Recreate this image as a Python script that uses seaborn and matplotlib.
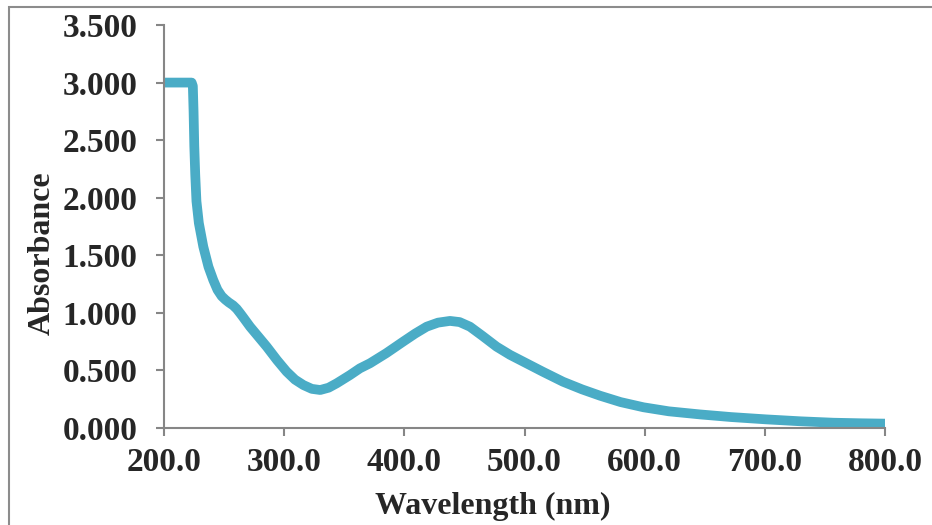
import matplotlib
matplotlib.use("Agg")
import matplotlib.pyplot as plt
import matplotlib.patches as mpatches
from matplotlib.ticker import FormatStrFormatter
import seaborn as sns
import pandas as pd

wavelength = [200, 212, 223.0, 224.0, 224.6, 225.2, 226, 227, 229, 232.7, 237, 241, 244.5,
              248, 251, 254, 257.5, 260.5, 263.5, 266, 271.6, 278, 285.5, 294, 302, 309,
              316, 323, 330, 337, 343.7, 354.8, 363, 371.4, 385, 399, 409, 418.6, 428,
              438, 446, 454.6, 465, 476.8, 488, 499, 515, 532, 548, 563, 580, 599, 620,
              646, 672, 701, 730, 757, 780, 800]
absorbance = [3.0, 3.0, 3.0, 2.97, 2.75, 2.45, 2.2, 1.97, 1.78, 1.575, 1.40, 1.285, 1.20,
              1.145, 1.115, 1.09, 1.065, 1.035, 0.995, 0.96, 0.88, 0.80, 0.706, 0.59, 0.49,
              0.42, 0.373, 0.34, 0.33, 0.35, 0.388, 0.46, 0.518, 0.562, 0.65, 0.75, 0.82,
              0.88, 0.915, 0.93, 0.92, 0.88, 0.80, 0.706, 0.635, 0.576, 0.49, 0.402, 0.335,
              0.28, 0.225, 0.18, 0.145, 0.118, 0.095, 0.075, 0.058, 0.046, 0.041, 0.038]

x_ticks = [200, 300, 400, 500, 600, 700, 800]
y_ticks = [0, 0.5, 1.0, 1.5, 2.0, 2.5, 3.0, 3.5]

df = pd.DataFrame({"wavelength": wavelength, "absorbance": absorbance})

sns.set_style("ticks")
plt.rcParams["font.family"] = ["Liberation Serif", "DejaVu Serif"]
plt.rcParams["font.weight"] = "bold"

fig = plt.figure(figsize=(9.32, 5.25), dpi=100)
ax = fig.add_axes([164 / 932, 97 / 525, 721 / 932, 403 / 525])

sns.lineplot(data=df, x="wavelength", y="absorbance", ax=ax, color="#4AACC6",
             linewidth=7, solid_capstyle="round", solid_joinstyle="round")

ax.set_xlim(200, 800)
ax.set_ylim(0, 3.5)
ax.set_xticks(x_ticks)
ax.set_yticks(y_ticks)
ax.xaxis.set_major_formatter(FormatStrFormatter("%.1f"))
ax.yaxis.set_major_formatter(FormatStrFormatter("%.3f"))

for side in ["top", "right"]:
    ax.spines[side].set_visible(False)
for side in ["left", "bottom"]:
    ax.spines[side].set_color("#868686")
    ax.spines[side].set_linewidth(1.5)
ax.tick_params(axis="both", direction="out", length=6, width=1.5, color="#868686",
               labelsize=24)
ax.tick_params(axis="y", pad=13)
ax.tick_params(axis="x", pad=8)
for lbl in ax.get_xticklabels() + ax.get_yticklabels():
    lbl.set_fontweight("bold")

ax.set_xlabel("")
ax.set_ylabel("")
fig.text(493 / 932, 19 / 525, "Wavelength (nm)", ha="center", va="center",
         fontsize=23, fontweight="bold")
fig.text(42 / 932, 1 - 253 / 525, "Absorbance", ha="center", va="center",
         rotation=90, fontsize=23, fontweight="bold")

border = mpatches.Rectangle((9 / 932, -0.1), 1.2, 1 - 7 / 525 + 0.1,
                            transform=fig.transFigure, fill=False,
                            edgecolor="#8C8C8C", linewidth=1.5, clip_on=False)
fig.patches.append(border)

fig.savefig("out.png", dpi=100)
